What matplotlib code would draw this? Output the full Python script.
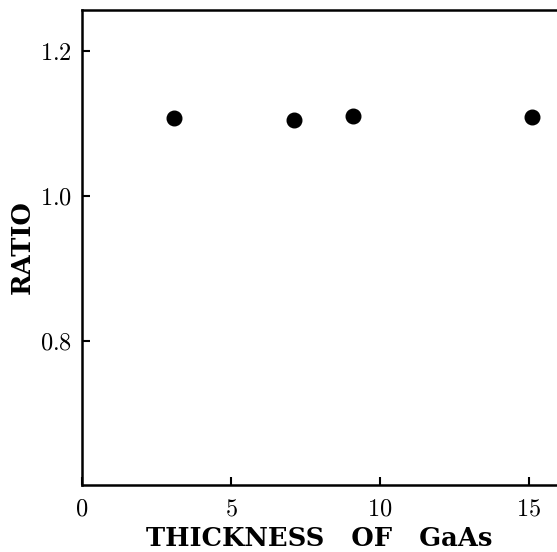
import matplotlib
matplotlib.use("Agg")
import matplotlib.pyplot as plt

# Ratio vs GaAs thickness
thickness = [3.1, 7.1, 9.1, 15.1]
ratio = [1.107, 1.105, 1.110, 1.109]

x_ticks = [0, 5, 10, 15]
y_ticks = [0.8, 1.0, 1.2]

plt.rcParams["mathtext.fontset"] = "cm"
plt.rcParams["font.family"] = "DejaVu Serif"

fig = plt.figure(figsize=(5.57, 5.52), dpi=100)
ax = fig.add_axes([82 / 557, 1 - 485 / 552, 1 - 82 / 557, (485 - 10) / 552])

ax.plot(thickness, ratio, "o", color="black", markersize=10.5)

ax.set_xlim(0, 15.94)
ax.set_ylim(0.601, 1.2566)
ax.set_xticks(x_ticks)
ax.set_xticklabels([f"${v}$" for v in x_ticks])
ax.set_yticks(y_ticks)
ax.set_yticklabels([f"${v:.1f}$" for v in y_ticks])
ax.tick_params(direction="in", length=6, width=1.5, labelsize=17.5)
ax.tick_params(axis="x", pad=9)
ax.tick_params(axis="y", pad=7)

for side in ["left", "bottom", "top"]:
    ax.spines[side].set_linewidth(1.8)
ax.spines["right"].set_visible(False)

ax.set_xlabel("THICKNESS   OF   GaAs", fontsize=18.5, fontweight="bold", labelpad=4)
ax.set_ylabel("RATIO", fontsize=18.5, fontweight="bold", labelpad=4)

fig.savefig("out.png", dpi=100)
